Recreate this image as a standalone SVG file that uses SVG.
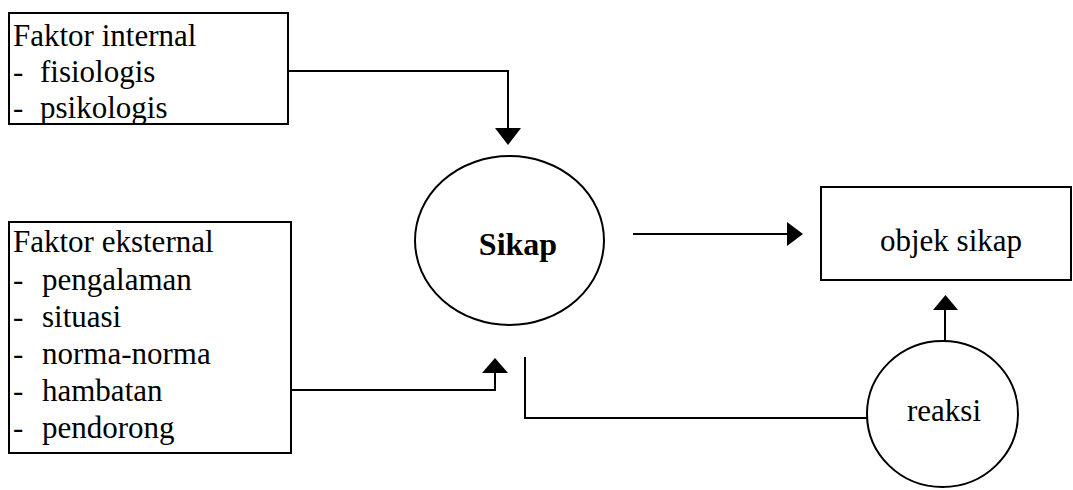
<svg xmlns="http://www.w3.org/2000/svg" width="1073" height="490" viewBox="0 0 1073 490">
<style>
.box{fill:#fff;stroke:#000;stroke-width:2}
.ln{fill:none;stroke:#000;stroke-width:2}
.t{font-family:'Liberation Serif','Times New Roman',serif;font-size:31px;fill:#000}
.b{font-weight:bold;font-size:32px}
.ah{fill:#000}
</style>
<rect width="1073" height="490" fill="#fff"/>
<g id="connectors">
<polyline class="ln" points="289,71 508,71 508,129"/>
<polygon class="ah" points="495,128 521,128 508,145"/>
<line class="ln" x1="633" y1="234" x2="788" y2="234"/>
<polygon class="ah" points="787,222 787,246 803,234"/>
<polyline class="ln" points="292,390 495,390 495,372"/>
<polygon class="ah" points="482,373 508,373 495,358"/>
<polyline class="ln" points="867,418 525,418 525,357"/>
<line class="ln" x1="945" y1="341" x2="945" y2="309"/>
<polygon class="ah" points="933,310 958,310 945.5,295"/>
</g>
<g id="faktor-internal">
<rect class="box" x="9" y="13" width="279" height="111"/>
<text class="t" x="13" y="46">Faktor internal</text>
<text class="t" y="82"><tspan x="13">-</tspan><tspan x="40">fisiologis</tspan></text>
<text class="t" y="118"><tspan x="13">-</tspan><tspan x="40">psikologis</tspan></text>
</g>
<g id="faktor-eksternal">
<rect class="box" x="9" y="222" width="282" height="231"/>
<text class="t" x="13" y="252">Faktor eksternal</text>
<text class="t" y="290"><tspan x="13">-</tspan><tspan x="42">pengalaman</tspan></text>
<text class="t" y="327"><tspan x="13">-</tspan><tspan x="42">situasi</tspan></text>
<text class="t" y="364"><tspan x="13">-</tspan><tspan x="42">norma-norma</tspan></text>
<text class="t" y="401"><tspan x="13">-</tspan><tspan x="42">hambatan</tspan></text>
<text class="t" y="438"><tspan x="13">-</tspan><tspan x="42">pendorong</tspan></text>
</g>
<g id="sikap">
<ellipse class="box" cx="509.5" cy="240.5" rx="94.5" ry="84.5"/>
<text class="t b" x="518" y="255" text-anchor="middle">Sikap</text>
</g>
<g id="objek-sikap">
<rect class="box" x="821" y="187" width="250" height="93"/>
<text class="t" x="951" y="251" text-anchor="middle">objek sikap</text>
</g>
<g id="reaksi">
<ellipse class="box" cx="942.5" cy="414" rx="75.5" ry="73"/>
<text class="t" x="944" y="421" text-anchor="middle">reaksi</text>
</g>
</svg>
